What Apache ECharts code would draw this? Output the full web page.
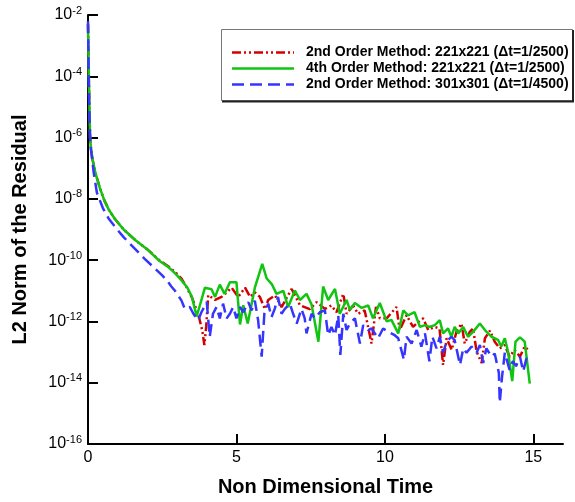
<!DOCTYPE html>
<html>
<head>
<meta charset="utf-8">
<script src="https://cdn.jsdelivr.net/npm/echarts@6/dist/echarts.min.js"></script>
<style>
  html, body { margin: 0; padding: 0; background: #ffffff; }
  #chart { width: 575px; height: 502px; }
</style>
</head>
<body>
<div id="chart"></div>
<script>
// Series names shown in the legend
const seriesNames = [
  '2nd Order Method: 221x221 (\u0394t=1/2500)',
  '4th Order Method: 221x221 (\u0394t=1/2500)',
  '2nd Order Method: 301x301 (\u0394t=1/4500)'
];

// Axis tick positions
const xTickValues = [0, 5, 10, 15];
const yTickValues = [1e-16, 1e-14, 1e-12, 1e-10, 1e-8, 1e-6, 1e-4, 1e-2];

// 2nd order, 221x221: time and log10 of the L2 residual
const timeSecond221 = [
  0, 0.02, 0.04, 0.07, 0.1, 0.15, 0.25, 0.4, 0.55, 0.7, 0.9, 1.2, 1.6, 2.0, 2.4, 2.7, 2.85,
  3.0, 3.15, 3.3, 3.49, 3.71, 3.85, 3.92, 3.98, 4.05, 4.28,
  4.5, 4.84, 5.06, 5.29, 5.46, 5.62, 5.79, 5.96, 6.07, 6.3,
  6.52, 6.86, 7.14, 7.47, 7.7, 7.98, 8.2, 8.37, 8.6, 8.71,
  8.93, 9.1, 9.32, 9.55, 9.7, 9.83, 10.06, 10.39, 10.5, 10.73,
  10.95, 11.12, 11.29, 11.46, 11.68, 11.84, 11.96, 12.08, 12.25, 12.41,
  12.58, 12.69, 12.86, 12.97, 13.09, 13.26, 13.37, 13.54, 13.7, 13.87,
  14.04, 14.2, 14.37, 14.55, 14.71, 14.88
];
const logResSecond221 = [
  -2.3, -3.6, -4.7, -6.0, -6.35, -6.7, -7.15, -7.65, -8.05, -8.35, -8.65, -9.0, -9.35, -9.65, -10.0, -10.2, -10.32,
  -10.45, -10.6, -10.85, -11.2, -11.75, -12.3, -12.77, -12.18, -11.14, -11.3,
  -11.2, -10.9, -11.2, -10.9, -11.2, -11.05, -11.2, -11.6, -11.3, -11.15,
  -11.53, -10.94, -11.47, -11.6, -11.37, -11.59, -11.48, -11.7, -11.1, -11.75,
  -11.48, -11.75, -11.64, -12.72, -11.53, -11.9, -11.9, -11.53, -12.28, -11.8,
  -12.18, -12.02, -11.9, -12.28, -12.18, -12.23, -13.42, -12.55, -12.93, -12.34,
  -12.07, -12.72, -12.34, -12.23, -12.98, -13.36, -12.55, -12.3, -12.66, -12.88,
  -12.77, -13.15, -12.93, -13.15, -12.82, -12.98
];

// 4th order, 221x221
const timeFourth221 = [
  0, 0.02, 0.04, 0.07, 0.1, 0.15, 0.25, 0.4, 0.55, 0.7, 0.9, 1.2, 1.6, 2.0, 2.4, 2.7, 2.9,
  3.0, 3.15, 3.35, 3.5, 3.66, 3.94, 4.16, 4.28, 4.44, 4.6,
  4.78, 5.0, 5.12, 5.23, 5.38, 5.62, 5.87, 6.02, 6.19, 6.35,
  6.58, 6.74, 6.97, 7.14, 7.36, 7.53, 7.76, 7.92, 8.09, 8.32,
  8.48, 8.71, 8.82, 8.99, 9.22, 9.44, 9.6, 9.83, 10.06, 10.22,
  10.45, 10.62, 10.78, 11.0, 11.18, 11.35, 11.5, 11.68, 11.85, 11.96,
  12.13, 12.24, 12.35, 12.47, 12.64, 12.8, 12.97, 13.2, 13.37, 13.59,
  13.81, 13.92, 14.04, 14.15, 14.29, 14.4, 14.55, 14.71, 14.88
];
const logResFourth221 = [
  -2.3, -3.5, -4.6, -6.0, -6.35, -6.7, -7.15, -7.65, -8.05, -8.35, -8.65, -9.0, -9.35, -9.65, -10.02, -10.22, -10.4,
  -10.5, -10.66, -10.9, -11.2, -11.84, -10.9, -10.95, -11.2, -10.8, -11.1,
  -10.72, -10.72, -12.1, -11.47, -12.07, -10.9, -10.12, -10.6, -10.78, -11.1,
  -11.0, -11.53, -10.99, -11.3, -11.1, -11.45, -12.66, -10.86, -11.3, -10.94,
  -11.75, -11.3, -11.62, -11.4, -11.56, -11.48, -11.9, -11.4, -12.0, -11.95,
  -12.39, -11.64, -11.8, -11.7, -12.18, -12.12, -12.18, -12.12, -11.96, -12.39,
  -12.23, -12.5, -12.18, -12.39, -12.18, -12.5, -12.34, -12.07, -12.28, -12.5,
  -12.6, -12.82, -12.55, -13.0, -13.95, -12.66, -12.52, -12.66, -14.03
];

// 2nd order, 301x301
const timeSecond301 = [
  0, 0.02, 0.04, 0.07, 0.1, 0.2, 0.3, 0.4, 0.5, 0.7, 0.94, 1.2, 1.55, 1.9, 2.22, 2.5, 2.66, 2.8,
  2.93, 3.15, 3.26, 3.43, 3.55, 3.71, 3.82, 4.0, 4.1, 4.21,
  4.33, 4.44, 4.55, 4.67, 4.78, 4.89, 5.0, 5.12, 5.23, 5.4,
  5.51, 5.62, 5.73, 5.85, 5.94, 6.07, 6.18, 6.29, 6.4, 6.52,
  6.63, 6.8, 6.91, 7.03, 7.19, 7.3, 7.36, 7.53, 7.64, 7.81,
  7.98, 8.09, 8.2, 8.32, 8.43, 8.5, 8.6, 8.71, 8.82, 8.99,
  9.16, 9.27, 9.44, 9.55, 9.77, 9.94, 10.11, 10.33, 10.45, 10.64,
  10.73, 10.9, 11.07, 11.23, 11.35, 11.5, 11.6, 11.74, 11.85, 11.96,
  12.08, 12.24, 12.35, 12.53, 12.64, 12.75, 12.92, 13.09, 13.2, 13.31,
  13.42, 13.59, 13.7, 13.84, 13.87, 13.95, 14.04, 14.2, 14.31, 14.42,
  14.55, 14.66, 14.77, 14.88
];
const logResSecond301 = [
  -2.2, -3.8, -5.0, -6.0, -6.4, -7.2, -7.8, -8.05, -8.3, -8.65, -8.95, -9.25, -9.6, -9.95, -10.24, -10.5, -10.66, -10.85,
  -11.0, -11.32, -11.59, -11.53, -11.75, -11.96, -11.7, -11.37, -12.5, -11.75,
  -11.53, -11.9, -11.42, -11.9, -11.75, -11.53, -11.9, -11.53, -11.7, -11.37,
  -11.64, -11.32, -11.96, -13.15, -11.75, -11.42, -11.86, -11.59, -11.2, -11.75,
  -11.59, -11.42, -11.75, -12.07, -11.59, -11.9, -12.39, -11.75, -11.9, -11.7,
  -11.64, -12.45, -12.18, -12.45, -11.8, -13.09, -11.75, -12.28, -12.07, -11.9,
  -12.72, -12.12, -12.28, -12.23, -12.55, -12.23, -12.34, -12.45, -12.55, -13.25,
  -12.5, -12.72, -12.28, -12.82, -12.39, -13.3, -12.5, -12.88, -12.5, -13.02,
  -12.66, -12.5, -12.61, -13.42, -12.88, -13.02, -12.82, -13.02, -12.77, -13.36,
  -12.88, -13.15, -13.05, -13.68, -14.65, -13.78, -13.02, -13.58, -13.3, -13.46,
  -13.15, -13.63, -13.2, -13.3
];

// Pair each time with its residual (stored as log10, plotted on a log axis)
function toPoints(times, logs) {
  return times.map((t, i) => [t, Math.pow(10, logs[i])]);
}

const FONT = '"Liberation Sans", Arial, Helvetica, sans-serif';

// Line styles per series: red dash-dot-dot, green solid, blue long dash
const lineStyles = [
  { color: '#d40000', width: 2.5, dash: [9, 3, 2, 3, 2, 3] },
  { color: '#11c411', width: 2.5, dash: null },
  { color: '#3535ff', width: 2.5, dash: [12, 6] }
];

// Boxed legend in the upper right of the plot
function buildLegend() {
  const items = [
    {
      type: 'rect',
      z: 10,
      shape: { x: 221.5, y: 29.5, width: 351, height: 71 },
      style: { fill: '#ffffff', stroke: '#777', lineWidth: 1 }
    },
    {
      type: 'polyline',
      z: 11,
      shape: { points: [[573, 30], [573, 101.5], [222, 101.5]] },
      style: { stroke: '#222', lineWidth: 2, fill: null }
    }
  ];
  seriesNames.forEach((name, i) => {
    const cy = 52.5 + i * 16;
    const ls = lineStyles[i];
    items.push({
      type: 'line',
      z: 12,
      shape: { x1: 232, y1: cy, x2: 294, y2: cy },
      style: { stroke: ls.color, lineWidth: ls.width, lineDash: ls.dash || null }
    });
    items.push({
      type: 'text',
      z: 12,
      x: 306,
      y: cy,
      style: {
        text: name,
        font: 'bold 14px ' + FONT,
        fill: '#000',
        verticalAlign: 'middle',
        align: 'left'
      }
    });
  });
  return items;
}

const chart = echarts.init(document.getElementById('chart'), null, { renderer: 'canvas' });

const dataSets = [
  toPoints(timeSecond221, logResSecond221),
  toPoints(timeFourth221, logResFourth221),
  toPoints(timeSecond301, logResSecond301)
];

chart.setOption({
  animation: false,
  backgroundColor: '#ffffff',
  grid: { left: 88, right: 12, top: 15, bottom: 54, containLabel: false },
  xAxis: {
    type: 'value',
    min: 0,
    max: 16,
    name: 'Non Dimensional Time',
    nameLocation: 'middle',
    nameGap: 33,
    nameTextStyle: { fontFamily: FONT, fontSize: 20, fontWeight: 'bold', color: '#000' },
    axisLine: { show: true, lineStyle: { color: '#000', width: 2 } },
    axisTick: { show: true, inside: true, length: 10, lineStyle: { color: '#000', width: 2 }, customValues: xTickValues },
    axisLabel: { fontFamily: FONT, fontSize: 16, color: '#000', margin: 6, customValues: xTickValues },
    splitLine: { show: false }
  },
  yAxis: {
    type: 'log',
    logBase: 10,
    min: 1e-16,
    max: 1e-2,
    name: 'L2 Norm of the Residual',
    nameLocation: 'middle',
    nameGap: 58,
    nameTextStyle: { fontFamily: FONT, fontSize: 20, fontWeight: 'bold', color: '#000' },
    axisLine: { show: true, lineStyle: { color: '#000', width: 2 } },
    axisTick: { show: true, inside: true, length: 10, lineStyle: { color: '#000', width: 2 }, customValues: yTickValues },
    axisLabel: {
      customValues: yTickValues,
      margin: 6,
      formatter: function (v) {
        const e = Math.round(Math.log10(v));
        return '{b|10}{s|' + e + '}';
      },
      rich: {
        b: { fontFamily: FONT, fontSize: 16, color: '#000', lineHeight: 20 },
        s: { fontFamily: FONT, fontSize: 11, color: '#000', verticalAlign: 'top', lineHeight: 20, padding: [0, 0, 9, 0] }
      }
    },
    splitLine: { show: false },
    minorTick: { show: false }
  },
  graphic: buildLegend(),
  series: seriesNames.map((name, i) => ({
    name: name,
    type: 'line',
    showSymbol: false,
    symbol: 'none',
    z: 3 + i,
    data: dataSets[i],
    lineStyle: {
      color: lineStyles[i].color,
      width: lineStyles[i].width,
      type: lineStyles[i].dash || 'solid'
    },
    itemStyle: { color: lineStyles[i].color }
  }))
});
</script>
</body>
</html>
